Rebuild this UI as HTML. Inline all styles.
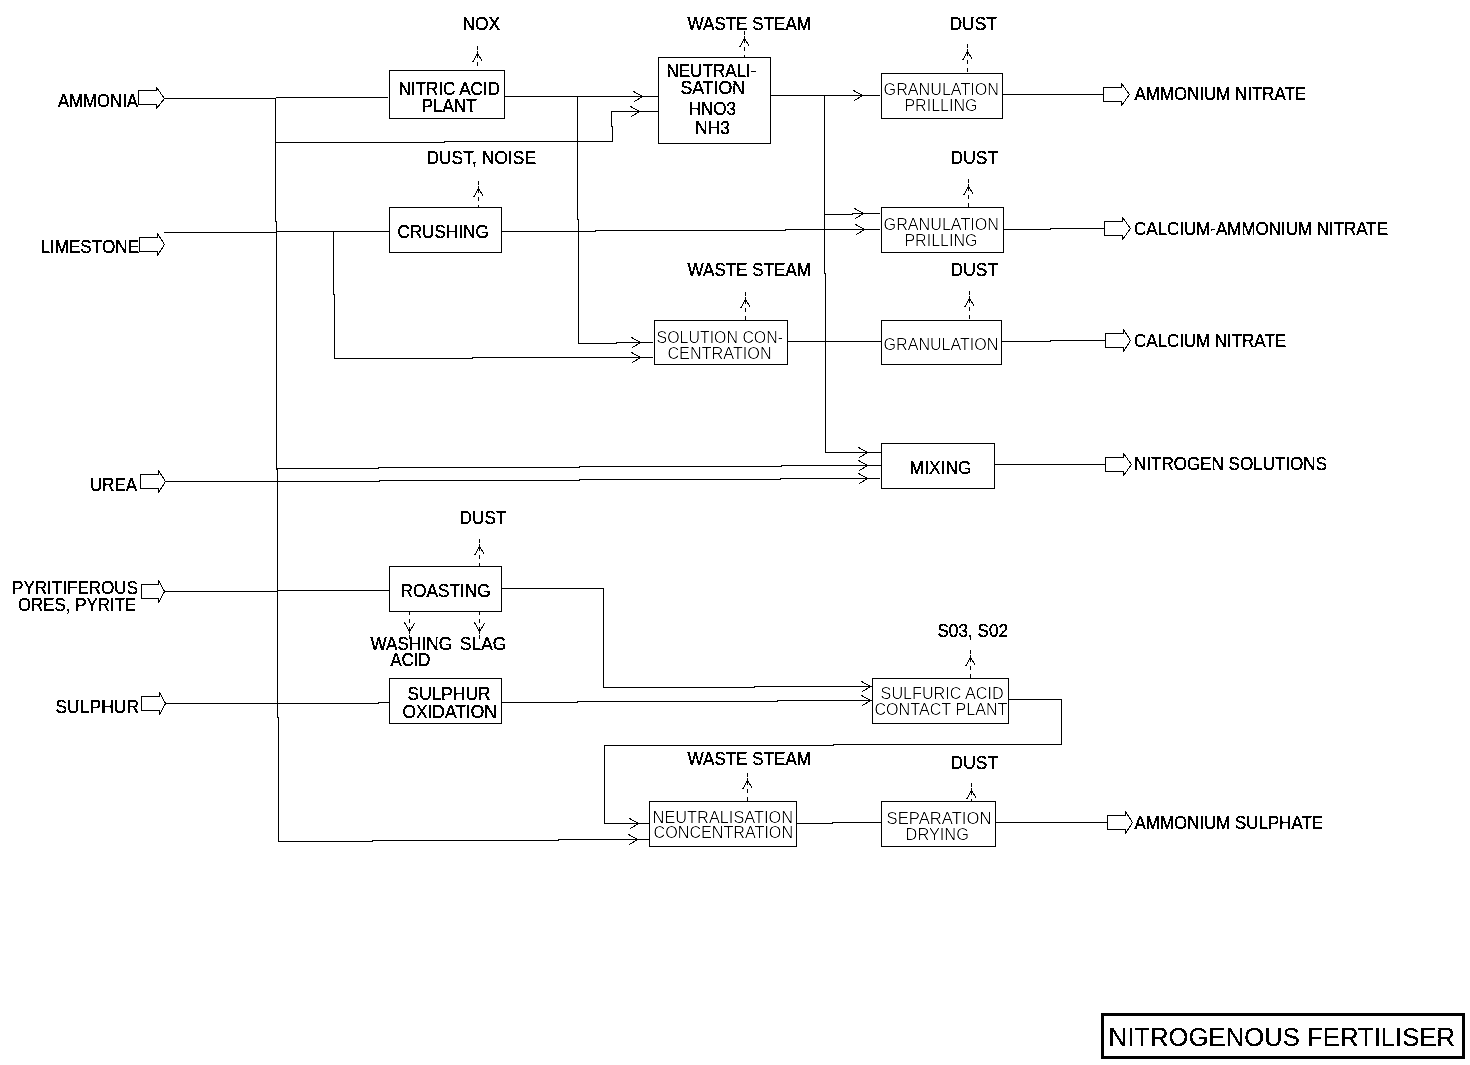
<!DOCTYPE html><html><head><meta charset="utf-8"><title>Nitrogenous Fertiliser</title><style>html,body{margin:0;padding:0;background:#fff;width:1470px;height:1065px;overflow:hidden}svg{display:block}text{font-family:"Liberation Sans",sans-serif;fill:#000}.b{stroke:#000;stroke-width:0.3px}.t{stroke:none}.T{stroke:#000;stroke-width:0.2px}</style></head><body>
<svg width="1470" height="1065" viewBox="0 0 1470 1065">
<defs><filter id="bin" x="0" y="0" width="1470" height="1065" filterUnits="userSpaceOnUse"><feComponentTransfer><feFuncA type="discrete" tableValues="0 1"/></feComponentTransfer></filter><filter id="bin2" x="0" y="0" width="1470" height="1065" filterUnits="userSpaceOnUse"><feComponentTransfer><feFuncA type="discrete" tableValues="0 1 1"/></feComponentTransfer></filter><filter id="thin" x="0" y="0" width="1470" height="1065" filterUnits="userSpaceOnUse"><feComponentTransfer><feFuncA type="table" tableValues="0 0 0.4 1"/></feComponentTransfer></filter></defs>
<g fill="none" stroke="#000" stroke-width="1" shape-rendering="crispEdges">
<rect x="389.5" y="70.5" width="115" height="48"/>
<rect x="658.5" y="57.5" width="112" height="86"/>
<rect x="881.5" y="73.5" width="121" height="45"/>
<rect x="389.5" y="207.5" width="112" height="45"/>
<rect x="881.5" y="207.5" width="122" height="45"/>
<rect x="654.5" y="320.5" width="133" height="44"/>
<rect x="881.5" y="320.5" width="120" height="44"/>
<rect x="881.5" y="443.5" width="113" height="45"/>
<rect x="389.5" y="566.5" width="112" height="45"/>
<rect x="389.5" y="678.5" width="112" height="45"/>
<rect x="872.5" y="678.5" width="136" height="45"/>
<rect x="649.5" y="801.5" width="147" height="45"/>
<rect x="881.5" y="801.5" width="114" height="45"/>
<rect x="1102.5" y="1014.5" width="361" height="43" stroke-width="3"/>
<path d="M165.5 98.5 L275.5 98.5" stroke-linecap="square"/>
<path d="M275.5 98.5 L275.5 221.5" stroke-linecap="square"/>
<path d="M276.5 221.5 L276.5 469.5" stroke-linecap="square"/>
<path d="M277.5 469.5 L277.5 717.5" stroke-linecap="square"/>
<path d="M278.5 717.5 L278.5 841.5 L372.5 841.5" stroke-linecap="square"/>
<path d="M372.5 840.5 L558.5 840.5" stroke-linecap="square"/>
<path d="M558.5 839.5 L649.5 839.5" stroke-linecap="square"/>
<path d="M276.5 97.5 L387.5 97.5" stroke-linecap="square"/>
<path d="M275.5 142.5 L444.5 142.5" stroke-linecap="square"/>
<path d="M444.5 141.5 L612.5 141.5 L612.5 126.5" stroke-linecap="square"/>
<path d="M611.5 126.5 L611.5 111.5 L658.5 111.5" stroke-linecap="square"/>
<path d="M504.5 96.5 L658.5 96.5" stroke-linecap="square"/>
<path d="M577.5 96.5 L577.5 219.5" stroke-linecap="square"/>
<path d="M578.5 219.5 L578.5 343.5 L616.5 343.5" stroke-linecap="square"/>
<path d="M616.5 342.5 L652.5 342.5" stroke-linecap="square"/>
<path d="M164.5 232.5 L276.5 232.5" stroke-linecap="square"/>
<path d="M276.5 231.5 L389.5 231.5" stroke-linecap="square"/>
<path d="M333.5 231.5 L333.5 294.5" stroke-linecap="square"/>
<path d="M334.5 294.5 L334.5 358.5 L472.5 358.5" stroke-linecap="square"/>
<path d="M472.5 357.5 L652.5 357.5" stroke-linecap="square"/>
<path d="M501.5 231.5 L595.5 231.5" stroke-linecap="square"/>
<path d="M595.5 230.5 L785.5 230.5" stroke-linecap="square"/>
<path d="M785.5 229.5 L879.5 229.5" stroke-linecap="square"/>
<path d="M770.5 95.5 L879.5 95.5" stroke-linecap="square"/>
<path d="M824.5 95.5 L824.5 273.5" stroke-linecap="square"/>
<path d="M825.5 273.5 L825.5 452.5 L881.5 452.5" stroke-linecap="square"/>
<path d="M825.5 214.5 L852.5 214.5" stroke-linecap="square"/>
<path d="M852.5 213.5 L879.5 213.5" stroke-linecap="square"/>
<path d="M787.5 341.5 L881.5 341.5" stroke-linecap="square"/>
<path d="M276.5 468.5 L378.5 468.5" stroke-linecap="square"/>
<path d="M378.5 467.5 L579.5 467.5" stroke-linecap="square"/>
<path d="M579.5 466.5 L781.5 466.5" stroke-linecap="square"/>
<path d="M781.5 465.5 L881.5 465.5" stroke-linecap="square"/>
<path d="M165.5 481.5 L379.5 481.5" stroke-linecap="square"/>
<path d="M379.5 480.5 L579.5 480.5" stroke-linecap="square"/>
<path d="M579.5 479.5 L780.5 479.5" stroke-linecap="square"/>
<path d="M780.5 478.5 L879.5 478.5" stroke-linecap="square"/>
<path d="M165.5 591.5 L277.5 591.5" stroke-linecap="square"/>
<path d="M277.5 590.5 L389.5 590.5" stroke-linecap="square"/>
<path d="M501.5 588.5 L603.5 588.5 L603.5 687.5 L754.5 687.5" stroke-linecap="square"/>
<path d="M754.5 686.5 L872.5 686.5" stroke-linecap="square"/>
<path d="M166.5 703.5 L378.5 703.5" stroke-linecap="square"/>
<path d="M378.5 702.5 L389.5 702.5" stroke-linecap="square"/>
<path d="M501.5 702.5 L577.5 702.5" stroke-linecap="square"/>
<path d="M577.5 701.5 L777.5 701.5" stroke-linecap="square"/>
<path d="M777.5 700.5 L872.5 700.5" stroke-linecap="square"/>
<path d="M1008.5 699.5 L1061.5 699.5 L1061.5 744.5 L833.5 744.5" stroke-linecap="square"/>
<path d="M833.5 745.5 L604.5 745.5 L604.5 823.5 L649.5 823.5" stroke-linecap="square"/>
<path d="M796.5 823.5 L832.5 823.5" stroke-linecap="square"/>
<path d="M832.5 822.5 L881.5 822.5" stroke-linecap="square"/>
<path d="M1002.5 94.5 L1103.5 94.5" stroke-linecap="square"/>
<path d="M1003.5 229.5 L1050.5 229.5" stroke-linecap="square"/>
<path d="M1050.5 228.5 L1104.5 228.5" stroke-linecap="square"/>
<path d="M1001.5 341.5 L1050.5 341.5" stroke-linecap="square"/>
<path d="M1050.5 340.5 L1105.5 340.5" stroke-linecap="square"/>
<path d="M994.5 464.5 L1105.5 464.5" stroke-linecap="square"/>
<path d="M995.5 822.5 L1107.5 822.5" stroke-linecap="square"/>
</g>
<g fill="none" stroke="#000" stroke-width="1" shape-rendering="crispEdges">
<path d="M633.5 91.5 L642.5 96.5 L634.5 101.5"/>
<path d="M630.5 106.5 L639.5 111.5 L631.5 116.5"/>
<path d="M631.5 337.5 L640.5 342.5 L632.5 347.5"/>
<path d="M631.5 352.5 L640.5 357.5 L632.5 362.5"/>
<path d="M853.5 90.5 L862.5 95.5 L854.5 100.5"/>
<path d="M854.5 208.5 L863.5 213.5 L855.5 218.5"/>
<path d="M855.5 224.5 L864.5 229.5 L856.5 234.5"/>
<path d="M858.5 447.5 L867.5 452.5 L859.5 457.5"/>
<path d="M858.5 460.5 L867.5 465.5 L859.5 470.5"/>
<path d="M858.5 473.5 L867.5 478.5 L859.5 483.5"/>
<path d="M861.5 681.5 L870.5 686.5 L862.5 691.5"/>
<path d="M861.5 695.5 L870.5 700.5 L862.5 705.5"/>
<path d="M629.5 818.5 L638.5 823.5 L630.5 828.5"/>
<path d="M628.5 834.5 L637.5 839.5 L629.5 844.5"/>
<path d="M138.5 90.5 L156.5 90.5 L156.5 87.5 L164.5 98.5 L156.5 108.5 L156.5 104.5 L138.5 104.5 Z"/>
<path d="M139.5 237.5 L157.5 237.5 L157.5 233.5 L164.5 244.5 L157.5 255.5 L157.5 251.5 L139.5 251.5 Z"/>
<path d="M140.5 474.5 L158.5 474.5 L158.5 470.5 L165.5 481.5 L158.5 492.5 L158.5 488.5 L140.5 488.5 Z"/>
<path d="M141.5 584.5 L158.5 584.5 L158.5 580.5 L164.5 591.5 L158.5 602.5 L158.5 598.5 L141.5 598.5 Z"/>
<path d="M141.5 696.5 L159.5 696.5 L159.5 692.5 L165.5 703.5 L159.5 714.5 L159.5 710.5 L141.5 710.5 Z"/>
<path d="M1103.5 87.5 L1121.5 87.5 L1121.5 83.5 L1129.5 94.5 L1121.5 105.5 L1121.5 101.5 L1103.5 101.5 Z"/>
<path d="M1104.5 221.5 L1122.5 221.5 L1122.5 217.5 L1130.5 228.5 L1122.5 239.5 L1122.5 235.5 L1104.5 235.5 Z"/>
<path d="M1105.5 333.5 L1123.5 333.5 L1123.5 329.5 L1130.5 340.5 L1123.5 351.5 L1123.5 347.5 L1105.5 347.5 Z"/>
<path d="M1105.5 457.5 L1123.5 457.5 L1123.5 453.5 L1131.5 464.5 L1123.5 475.5 L1123.5 471.5 L1105.5 471.5 Z"/>
<path d="M1107.5 815.5 L1125.5 815.5 L1125.5 811.5 L1132.5 822.5 L1125.5 833.5 L1125.5 829.5 L1107.5 829.5 Z"/>
<path d="M477.5 46 V50 M477.5 51 V58 M477.5 62 V66"/>
<path d="M472.5 62.5 L477.5 53.5 L482.5 61.5"/>
<path d="M744.5 31 V35 M744.5 36 V43 M744.5 47 V51 M744.5 55 V57"/>
<path d="M739.5 47.5 L744.5 38.5 L749.5 46.5"/>
<path d="M967.5 44 V48 M967.5 49 V56 M967.5 60 V64 M967.5 68 V72"/>
<path d="M962.5 60.5 L967.5 51.5 L972.5 59.5"/>
<path d="M478.5 181 V185 M478.5 186 V193 M478.5 197 V201 M478.5 205 V207"/>
<path d="M473.5 197.5 L478.5 188.5 L483.5 196.5"/>
<path d="M968.5 179 V183 M968.5 184 V191 M968.5 195 V199 M968.5 203 V207"/>
<path d="M963.5 195.5 L968.5 186.5 L973.5 194.5"/>
<path d="M745.5 292 V296 M745.5 297 V304 M745.5 308 V312 M745.5 316 V320"/>
<path d="M740.5 308.5 L745.5 299.5 L750.5 307.5"/>
<path d="M969.5 291 V295 M969.5 296 V303 M969.5 307 V311 M969.5 315 V319"/>
<path d="M964.5 307.5 L969.5 298.5 L974.5 306.5"/>
<path d="M479.5 539 V543 M479.5 544 V551 M479.5 555 V559 M479.5 563 V566"/>
<path d="M474.5 555.5 L479.5 546.5 L484.5 554.5"/>
<path d="M970.5 650 V654 M970.5 655 V662 M970.5 666 V670 M970.5 674 V678"/>
<path d="M965.5 666.5 L970.5 657.5 L975.5 665.5"/>
<path d="M747.5 773 V777 M747.5 778 V785 M747.5 789 V793 M747.5 797 V801"/>
<path d="M742.5 789.5 L747.5 780.5 L752.5 788.5"/>
<path d="M971.5 783 V787 M971.5 788 V795 M971.5 799 V801"/>
<path d="M966.5 799.5 L971.5 790.5 L976.5 798.5"/>
<path d="M409.5 635 V639 M409.5 627 V634 M409.5 619 V623 M409.5 612 V615"/>
<path d="M404.5 622.5 L409.5 631.5 L414.5 623.5"/>
<path d="M479.5 635 V639 M479.5 627 V634 M479.5 619 V623 M479.5 612 V615"/>
<path d="M474.5 622.5 L479.5 631.5 L484.5 623.5"/>
</g>
<g filter="url(#bin)">
<text class="b" x="58" y="107" font-size="18.2" textLength="80" lengthAdjust="spacingAndGlyphs">AMMONIA</text>
<text class="b" x="40.4" y="253" font-size="18.2" textLength="98.68" lengthAdjust="spacingAndGlyphs">LIMESTONE</text>
<text class="b" x="90" y="491.2" font-size="18.2" textLength="47.02" lengthAdjust="spacingAndGlyphs">UREA</text>
<text class="b" x="12" y="593.8" font-size="18.2" textLength="126.07" lengthAdjust="spacingAndGlyphs">PYRITIFEROUS</text>
<text class="b" x="18" y="611.2" font-size="18.2" textLength="118.06" lengthAdjust="spacingAndGlyphs">ORES, PYRITE</text>
<text class="b" x="55.4" y="713" font-size="18.2" textLength="83.68" lengthAdjust="spacingAndGlyphs">SULPHUR</text>
<text class="b" x="462.4" y="30" font-size="18.2" textLength="37.6" lengthAdjust="spacingAndGlyphs">NOX</text>
<text class="b" x="687.6" y="30" font-size="18.2" textLength="123.48" lengthAdjust="spacingAndGlyphs">WASTE STEAM</text>
<text class="b" x="949.4" y="30" font-size="18.2" textLength="47.68" lengthAdjust="spacingAndGlyphs">DUST</text>
<text class="b" x="426.4" y="164" font-size="18.2" textLength="109.69" lengthAdjust="spacingAndGlyphs">DUST, NOISE</text>
<text class="b" x="950.6" y="164" font-size="18.2" textLength="47.48" lengthAdjust="spacingAndGlyphs">DUST</text>
<text class="b" x="687.6" y="276" font-size="18.2" textLength="123.48" lengthAdjust="spacingAndGlyphs">WASTE STEAM</text>
<text class="b" x="950.6" y="276" font-size="18.2" textLength="47.48" lengthAdjust="spacingAndGlyphs">DUST</text>
<text class="b" x="459.4" y="524" font-size="18.2" textLength="47.15" lengthAdjust="spacingAndGlyphs">DUST</text>
<text class="b" x="370.4" y="650" font-size="18.2" textLength="81.71" lengthAdjust="spacingAndGlyphs">WASHING</text>
<text class="b" x="390.6" y="666" font-size="18.2" textLength="39.78" lengthAdjust="spacingAndGlyphs">ACID</text>
<text class="b" x="460" y="650" font-size="18.2" textLength="46.14" lengthAdjust="spacingAndGlyphs">SLAG</text>
<text class="b" x="937.4" y="637" font-size="18.2" textLength="70.67" lengthAdjust="spacingAndGlyphs">S03, S02</text>
<text class="b" x="687.6" y="765" font-size="18.2" textLength="123.48" lengthAdjust="spacingAndGlyphs">WASTE STEAM</text>
<text class="b" x="950.6" y="769" font-size="18.2" textLength="47.48" lengthAdjust="spacingAndGlyphs">DUST</text>
<text class="b" x="398.4" y="94.8" font-size="18.2" textLength="101.67" lengthAdjust="spacingAndGlyphs">NITRIC ACID</text>
<text class="b" x="421.4" y="111.8" font-size="18.2" textLength="55.37" lengthAdjust="spacingAndGlyphs">PLANT</text>
<text class="b" x="666.4" y="77" font-size="18.2" textLength="90.14" lengthAdjust="spacingAndGlyphs">NEUTRALI-</text>
<text class="b" x="680.4" y="93.8" font-size="18.2" textLength="64.66" lengthAdjust="spacingAndGlyphs">SATION</text>
<text class="b" x="688.4" y="115" font-size="18.2" textLength="47.79" lengthAdjust="spacingAndGlyphs">HNO3</text>
<text class="b" x="695" y="133.8" font-size="18.2" textLength="35.12" lengthAdjust="spacingAndGlyphs">NH3</text>
<text class="b" x="397.4" y="237.8" font-size="18.2" textLength="91.32" lengthAdjust="spacingAndGlyphs">CRUSHING</text>
<text class="b" x="909.6" y="473.8" font-size="18.2" textLength="62.12" lengthAdjust="spacingAndGlyphs">MIXING</text>
<text class="b" x="400.6" y="597.2" font-size="18.2" textLength="90.15" lengthAdjust="spacingAndGlyphs">ROASTING</text>
<text class="b" x="407.6" y="699.8" font-size="18.2" textLength="82.9" lengthAdjust="spacingAndGlyphs">SULPHUR</text>
<text class="b" x="402.4" y="717.8" font-size="18.2" textLength="94.32" lengthAdjust="spacingAndGlyphs">OXIDATION</text>
<text class="b" x="1134.6" y="100" font-size="18.2" textLength="171.41" lengthAdjust="spacingAndGlyphs">AMMONIUM NITRATE</text>
<text class="b" x="1134" y="235" font-size="18.2" textLength="254" lengthAdjust="spacingAndGlyphs">CALCIUM-AMMONIUM NITRATE</text>
<text class="b" x="1134" y="347" font-size="18.2" textLength="152.01" lengthAdjust="spacingAndGlyphs">CALCIUM NITRATE</text>
<text class="b" x="1134" y="470" font-size="18.2" textLength="193.02" lengthAdjust="spacingAndGlyphs">NITROGEN SOLUTIONS</text>
<text class="b" x="1134.6" y="829" font-size="18.2" textLength="188.41" lengthAdjust="spacingAndGlyphs">AMMONIUM SULPHATE</text>
</g>
<g filter="url(#bin)">
<text class="T" x="1108.6" y="1046" font-size="25.7" textLength="346.51" lengthAdjust="spacingAndGlyphs">NITROGENOUS FERTILISER</text>
</g>
<g filter="url(#thin)">
<text class="t" x="883.6" y="95" font-size="16.5" textLength="115.42" lengthAdjust="spacingAndGlyphs">GRANULATION</text>
<text class="t" x="904.4" y="111" font-size="16.5" textLength="73.14" lengthAdjust="spacingAndGlyphs">PRILLING</text>
<text class="t" x="883.6" y="229.8" font-size="16.5" textLength="115.42" lengthAdjust="spacingAndGlyphs">GRANULATION</text>
<text class="t" x="904.4" y="246.2" font-size="16.5" textLength="73.14" lengthAdjust="spacingAndGlyphs">PRILLING</text>
<text class="t" x="883.6" y="350.2" font-size="16.5" textLength="114.82" lengthAdjust="spacingAndGlyphs">GRANULATION</text>
<text class="t" x="656.6" y="342.8" font-size="16.5" textLength="126.46" lengthAdjust="spacingAndGlyphs">SOLUTION CON-</text>
<text class="t" x="667.4" y="359.2" font-size="16.5" textLength="104.32" lengthAdjust="spacingAndGlyphs">CENTRATION</text>
<text class="t" x="880.6" y="699.2" font-size="16.5" textLength="123.11" lengthAdjust="spacingAndGlyphs">SULFURIC ACID</text>
<text class="t" x="874.4" y="714.8" font-size="16.5" textLength="133.07" lengthAdjust="spacingAndGlyphs">CONTACT PLANT</text>
<text class="t" x="652.6" y="823" font-size="16.5" textLength="140.43" lengthAdjust="spacingAndGlyphs">NEUTRALISATION</text>
<text class="t" x="653.6" y="837.8" font-size="16.5" textLength="139.48" lengthAdjust="spacingAndGlyphs">CONCENTRATION</text>
<text class="t" x="886.6" y="823.8" font-size="16.5" textLength="104.88" lengthAdjust="spacingAndGlyphs">SEPARATION</text>
<text class="t" x="905.6" y="840.2" font-size="16.5" textLength="63.24" lengthAdjust="spacingAndGlyphs">DRYING</text>
</g>
</svg></body></html>
